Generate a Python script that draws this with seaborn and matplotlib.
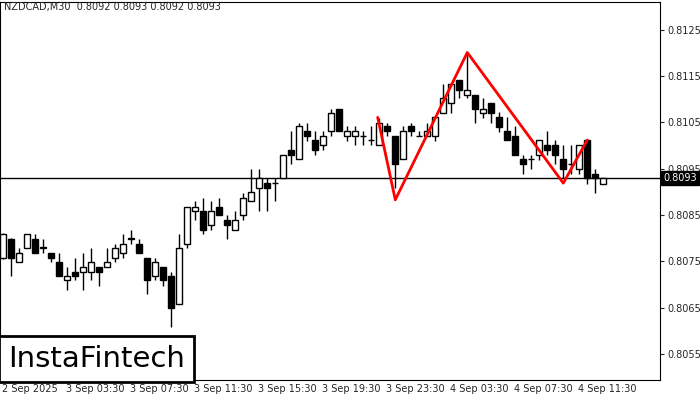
import matplotlib
matplotlib.use("Agg")
import matplotlib.pyplot as plt
import seaborn as sns
import pandas as pd
import numpy as np

opens = [.80758,.80799,.80748,.80780,.80799,.80780,.80769,.80748,.80709,.80728,
         .80728,.80728,.80737,.80737,.80758,.80769,.80799,.80788,.80758,.80718,
         .80737,.80718,.80657,.80788,.80859,.80859,.80829,.80868,.80840,.80818,
         .80851,.80881,.80909,.80919,.80919,.80930,.80990,.80971,.81031,.81012,
         .81001,.81031,.81080,.81020,.81020,.81020,.81012,.81001,.81042,.81020,
         .80971,.81042,.81020,.81020,.81020,.81070,.81091,.81141,.81110,.81110,
         .81070,.81091,.81061,.81031,.81020,.80971,.80971,.80980,.81001,.81001,
         .80971,.80960,.80949,.81012,.80939,.80917]
highs = [.80812,.80800,.80780,.80810,.80810,.80799,.80769,.80769,.80737,.80758,
         .80769,.80780,.80737,.80780,.80788,.80810,.80818,.80799,.80758,.80758,
         .80737,.80728,.80810,.80868,.80881,.80887,.80881,.80887,.80851,.80859,
         .80898,.80949,.80949,.80930,.80930,.80980,.81031,.81048,.81048,.81031,
         .81031,.81080,.81080,.81042,.81042,.81031,.81042,.81059,.81048,.81020,
         .81042,.81048,.81031,.81048,.81061,.81132,.81132,.81141,.81201,.81110,
         .81102,.81091,.81072,.81061,.81042,.80980,.80980,.81012,.81031,.81012,
         .81001,.81001,.81001,.81012,.80949,.80930]
lows = [.80755,.80718,.80748,.80780,.80769,.80769,.80748,.80718,.80688,.80709,
        .80688,.80709,.80698,.80737,.80748,.80758,.80788,.80769,.80679,.80709,
        .80696,.80608,.80657,.80780,.80840,.80810,.80818,.80851,.80799,.80818,
        .80840,.80881,.80859,.80859,.80881,.80930,.80960,.80971,.81010,.80980,
        .80990,.81020,.81031,.81010,.81001,.81001,.81001,.81001,.81020,.80909,
        .80971,.81020,.81020,.81020,.81010,.81070,.81070,.81102,.81102,.81048,
        .81059,.81048,.81029,.81012,.80980,.80939,.80949,.80970,.80980,.80960,
        .80930,.80939,.80939,.80917,.80898,.80917]
closes = [.80810,.80758,.80769,.80810,.80769,.80781,.80758,.80718,.80718,.80718,
          .80737,.80748,.80728,.80748,.80780,.80788,.80800,.80769,.80709,.80748,
          .80709,.80649,.80780,.80868,.80868,.80818,.80859,.80851,.80829,.80840,
          .80887,.80900,.80930,.80909,.80920,.80980,.80980,.81042,.81020,.80990,
          .81020,.81070,.81031,.81031,.81031,.81021,.81013,.81048,.81031,.80960,
          .81031,.81031,.81021,.81031,.81061,.81102,.81132,.81121,.81121,.81078,
          .81078,.81070,.81040,.81012,.80980,.80960,.80972,.81012,.80990,.80980,
          .80949,.80961,.81001,.80930,.80930,.80930]

pattern_idx = [46.8, 49, 58, 70, 73]
pattern_price = [.81061, .80883, .81201, .80919, .81012]

ytick_vals = [0.8055, 0.8065, 0.8075, 0.8085, 0.8095, 0.8105, 0.8115, 0.8125]
xtick_labels = ["2 Sep 2025", "3 Sep 03:30", "3 Sep 07:30", "3 Sep 11:30", "3 Sep 15:30",
                "3 Sep 19:30", "3 Sep 23:30", "4 Sep 03:30", "4 Sep 07:30", "4 Sep 11:30"]
last_price = 0.8093

sns.set_style("white")
plt.rcParams['font.family'] = ['DejaVu Sans']
fig = plt.figure(figsize=(7, 4), dpi=100)
ax = fig.add_axes([0.0, 0.05, 0.943, 0.945])

n = len(opens)
idx = np.arange(n)
o = np.array(opens); c = np.array(closes)
ax.vlines(idx, lows, highs, color="black", lw=1, zorder=2)
bottoms = np.minimum(o, c)
heights = np.maximum(np.abs(c - o), 0.000008)
cols = ["white" if cc > oo else "black" for oo, cc in zip(o, c)]
ax.bar(idx, heights, bottom=bottoms, width=0.7, color=cols, edgecolor="black", lw=1, zorder=3)

df = pd.DataFrame({"i": pattern_idx, "p": pattern_price})
sns.lineplot(data=df, x="i", y="p", color="red", lw=2, sort=False, ax=ax, zorder=4)

ax.axhline(last_price, color="black", lw=1, zorder=1)

ax.set_xlim(-0.41, 82.1)
ax.set_ylim(0.80494, 0.81310)
ax.yaxis.tick_right()
ax.set_yticks(ytick_vals)
ax.set_yticklabels([f"{v:.4f}" for v in ytick_vals], fontsize=7)
ax.tick_params(axis="y", length=3, pad=2)
ax.set_xticks([-0.1 + 8 * k for k in range(len(xtick_labels))])
ax.set_xticklabels(xtick_labels, fontsize=7, ha="left")
ax.tick_params(axis="x", length=0, pad=3)
ax.set_xlabel(""); ax.set_ylabel("")
for s in ax.spines.values():
    s.set_color("black"); s.set_linewidth(0.8)

ax.text(1.005, last_price, f"{last_price:.4f}", transform=ax.get_yaxis_transform(),
        fontsize=7, color="white", va="center", ha="left",
        bbox=dict(boxstyle="square,pad=0.2", fc="black", ec="black"), zorder=10)

ax.text(0.005, 0.994, "NZDCAD,M30  0.8092 0.8093 0.8092 0.8093", transform=fig.transFigure,
        fontsize=7, va="top", ha="left")

ax.text(0.012, 0.018, "InstaFintech", transform=ax.transAxes, fontsize=21,
        va="bottom", ha="left", color="black",
        bbox=dict(boxstyle="square,pad=0.3", fc="white", ec="black", lw=2), zorder=10)

fig.savefig("out.png", dpi=100)
